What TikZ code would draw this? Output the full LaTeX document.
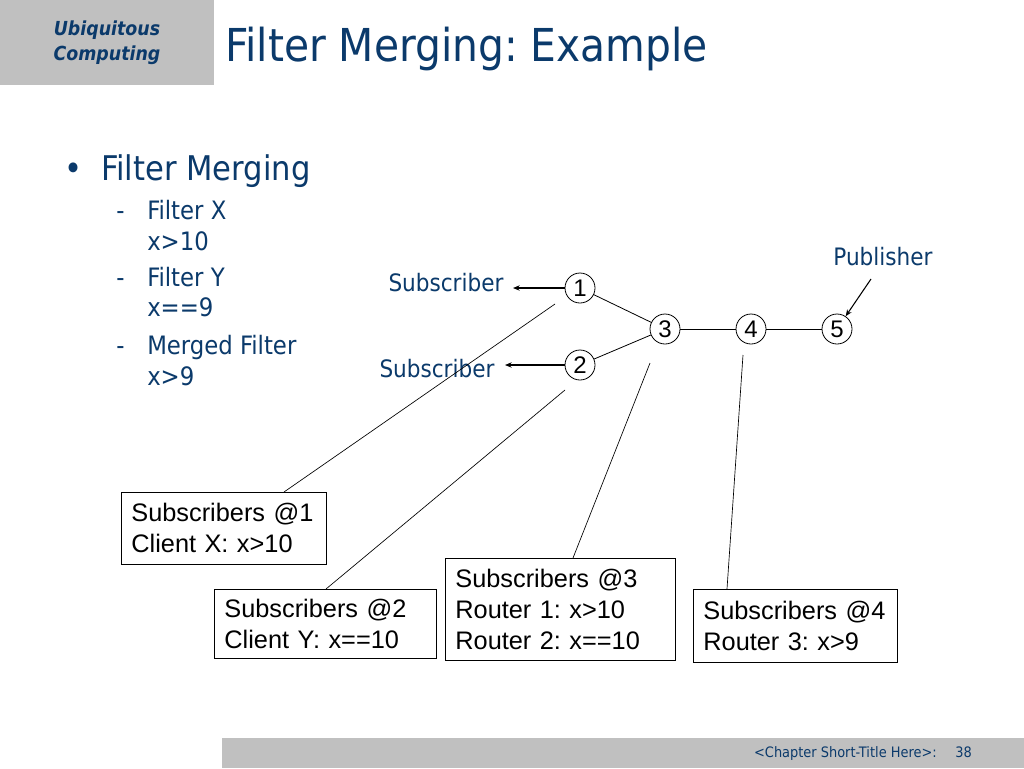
\documentclass[tikz,border=0pt]{standalone}
\usepackage{fontspec}
\setmainfont{DejaVu Sans Condensed}
\newfontfamily\arial{Liberation Sans}
\usetikzlibrary{arrows.meta}
\definecolor{navy}{HTML}{0B3A6B}
\definecolor{slidegrey}{HTML}{C0C0C0}
\frenchspacing
\begin{document}
\begin{tikzpicture}[x=0.75pt,y=-0.75pt,
  rnode/.style={circle,draw,line width=0.6pt,minimum size=22.5pt,inner sep=0pt,font=\arial\fontsize{18}{18}\selectfont},
  infobox/.style={draw,line width=0.6pt,align=left,inner xsep=7.5pt,font=\arial\fontsize{19}{23.25}\selectfont,anchor=north west},
  link/.style={line width=0.6pt},
  callout/.style={line width=0.5pt},
  lbl/.style={text=navy,font=\fontsize{18}{20}\selectfont,inner sep=0pt},
  tip/.style={line width=0.8pt,-{Stealth[length=5pt,width=4pt]}},
  bul/.style={text=navy,anchor=base west,inner sep=0pt},
  subfont/.style={font=\fontsize{19}{22}\selectfont}]
\useasboundingbox (0,0) rectangle (1024,768);
\fill[white] (0,0) rectangle (1024,768);
% header
\fill[slidegrey] (0,0) rectangle (214,85);
\node[text=navy,align=center,font=\bfseries\itshape\fontsize{14.5}{18.5}\selectfont] (hdr) at (107,43) {Ubiquitous\\Computing};
\node[text=navy,anchor=base west,inner sep=0pt,font=\fontsize{34}{40}\selectfont] (title) at (225,61) {Filter Merging: Example};
% footer
\fill[slidegrey] (222,738) rectangle (1024,768);
\node[text=navy,anchor=base east,inner sep=0pt,font=\fontsize{10.8}{12}\selectfont] (ftr) at (937,757) {<Chapter Short-Title Here>:};
\node[text=navy,anchor=base west,inner sep=0pt,font=\fontsize{10.8}{12}\selectfont] (pg) at (955,757) {38};
% bullets
\node[bul,font=\fontsize{25.5}{28}\selectfont] (b0) at (64,180) {•};
\node[bul,font=\fontsize{25.5}{28}\selectfont] (t0) at (101,180) {Filter Merging};
\foreach \y/\n in {219/d1,286/d2,354/d3}
  \node[bul,subfont] (\n) at (116,\y) {-};
\node[bul,subfont] (f1) at (147,219) {Filter X};
\node[bul,subfont] (f1b) at (147,250) {x>10};
\node[bul,subfont] (f2) at (147,286) {Filter Y};
\node[bul,subfont] (f2b) at (147,316) {x==9};
\node[bul,subfont] (f3) at (147,354) {Merged Filter};
\node[bul,subfont] (f3b) at (147,385) {x>9};
% network
\node[rnode] (n1) at (580,288) {1};
\node[rnode] (n2) at (580,365) {2};
\node[rnode] (n3) at (665,329) {3};
\node[rnode] (n4) at (751,329) {4};
\node[rnode] (n5) at (837,329) {5};
\draw[link] (n1) -- (n3);
\draw[link] (n2) -- (n3);
\draw[link] (n3) -- (n4);
\draw[link] (n4) -- (n5);
\node[lbl] (s1) at (446,283) {Subscriber};
\node[lbl] (s2) at (437,369) {Subscriber};
\node[lbl] (pub) at (883,257) {Publisher};
\draw[tip] (n1) -- (513,288) coordinate (s1e);
\draw[tip] (n2) -- (505,365) coordinate (s2e);
\coordinate (pubs) at (871,279);
\draw[tip] (pubs) -- (n5);
% boxes
\node[infobox,text width=138.75pt,minimum height=54pt] (bx1) at (121,492) {Subscribers @1\\Client X: x>10};
\node[infobox,text width=151.5pt,minimum height=51.75pt] (bx2) at (214,589) {Subscribers @2\\Client Y: x==10};
\node[infobox,text width=157.5pt,minimum height=76.5pt] (bx3) at (445,558) {Subscribers @3\\Router 1: x>10\\Router 2: x==10};
\node[infobox,text width=138pt,minimum height=54.75pt] (bx4) at (693,589) {Subscribers @4\\Router 3: x>9};
% callouts
\coordinate (k1) at (555,304);
\coordinate (k2) at (565,390);
\coordinate (k3) at (650,363);
\coordinate (k4) at (743,355);
\draw[callout] (k1) -- (bx1.north west -| 284,0);
\draw[callout] (k2) -- (bx2.north west -| 326,0);
\draw[callout] (k3) -- (bx3.north west -| 573,0);
\draw[callout] (k4) -- (bx4.north west -| 727,0);
\end{tikzpicture}
\end{document}
